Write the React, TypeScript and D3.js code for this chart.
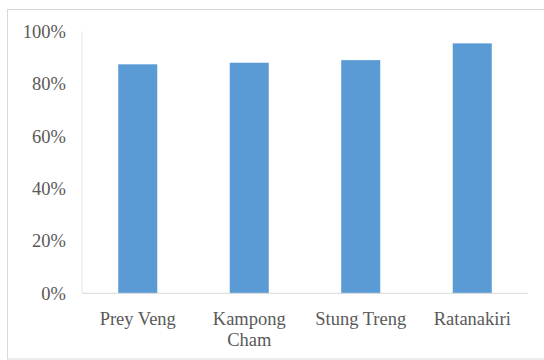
import React from "react";
import * as d3 from "d3";

const categories: string[][] = [["Prey Veng"], ["Kampong", "Cham"], ["Stung Treng"], ["Ratanakiri"]];
const values: number[] = [0.874, 0.88, 0.89, 0.954];
const yTicks: number[] = [0, 0.2, 0.4, 0.6, 0.8, 1.0];

const W = 544;
const H = 360;
const margin = { left: 82, right: 16, top: 31.3, bottom: 66.7 };

export default function App() {
  const x = d3
    .scaleBand<number>()
    .domain(d3.range(categories.length))
    .range([margin.left, W - margin.right])
    .paddingInner(0.65)
    .paddingOuter(0.325);
  const y = d3.scaleLinear().domain([0, 1]).range([H - margin.bottom, margin.top]);
  const fmt = d3.format(".0%");
  const textColor = "#595959";
  const textStyle = { fontFamily: "Liberation Serif", fontSize: "18.5px" };

  return (
    <svg
      width={W}
      height={H}
      style={{ position: "absolute", left: 0, top: 0, background: "#fff" }}
    >
      <rect x={7.5} y={9.5} width={W} height={H - 10.5} fill="#fff" stroke="#d9d9d9" />
      <line x1={margin.left} x2={margin.left} y1={y(1)} y2={y(0)} stroke="#e6e6e6" />
      {values.map((v, i) => (
        <rect
          key={i}
          x={x(i)}
          y={y(v)}
          width={x.bandwidth()}
          height={y(0) - y(v)}
          fill="#5b9bd5"
        />
      ))}
      <line x1={margin.left} x2={W - margin.right} y1={y(0)} y2={y(0)} stroke="#d9d9d9" />
      {yTicks.map((t) => (
        <text
          key={t}
          x={66}
          y={y(t)}
          dy="0.35em"
          textAnchor="end"
          style={textStyle}
          fill={textColor}
        >
          {fmt(t)}
        </text>
      ))}
      {categories.map((lines, i) => (
        <text
          key={i}
          x={(x(i) ?? 0) + x.bandwidth() / 2}
          y={y(0) + 32}
          textAnchor="middle"
          style={textStyle}
          fill={textColor}
        >
          {lines.map((l, j) => (
            <tspan key={j} x={(x(i) ?? 0) + x.bandwidth() / 2} dy={j === 0 ? 0 : 20.5}>
              {l}
            </tspan>
          ))}
        </text>
      ))}
    </svg>
  );
}
